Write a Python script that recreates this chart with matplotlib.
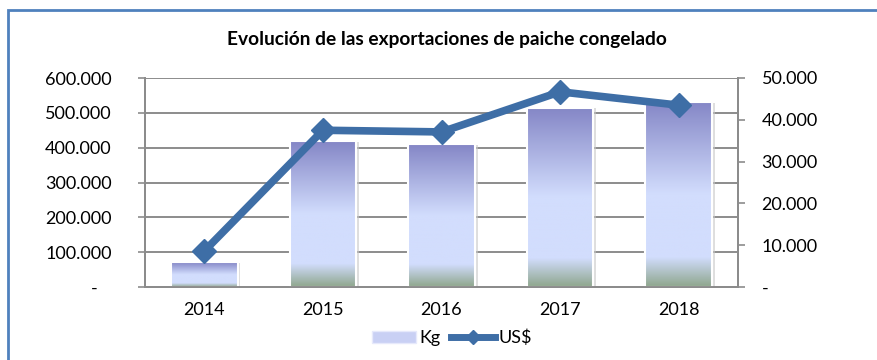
import numpy as np
import matplotlib
matplotlib.use("Agg")
import matplotlib.pyplot as plt
from matplotlib.colors import LinearSegmentedColormap
from matplotlib.patches import Rectangle, Patch
from matplotlib.lines import Line2D
from matplotlib.ticker import FuncFormatter

years = ["2014", "2015", "2016", "2017", "2018"]
kg = [71000, 419000, 410000, 515000, 532000]
usd = [8600, 37500, 37100, 46700, 43500]

plt.rcParams['font.family'] = ['Lato', 'DejaVu Sans']

bar_cmap = LinearSegmentedColormap.from_list(
    "bar", [(0.0, "#8486c6"), (0.5, "#d2ddfd"), (0.84, "#d2ddfd"), (1.0, "#8ea68c")])


def miles(v, pos):
    if v == 0:
        return "-"
    return "{:,.0f}".format(v).replace(",", ".")


def miles_left(v, pos):
    if v == 0:
        return "-   "
    return miles(v, pos)


fig = plt.figure(figsize=(8.77, 3.6), dpi=100)
# chart area border (only top and left edges fall inside the image)
fig.patches.append(Rectangle((8 / 877, -0.1), 1.2, 1.1 - 10 / 360,
                             transform=fig.transFigure, fill=False,
                             edgecolor="#4f81bd", linewidth=2.0))

ax = fig.add_axes([145 / 877, 1 - 287 / 360, (738 - 145) / 877, (287 - 78) / 360])
ax2 = ax.twinx()

x = np.arange(len(years))
width = 0.56
ax.set_ylim(0, 600000)
ax.set_yticks(np.arange(0, 600001, 100000))
ax.yaxis.set_major_formatter(FuncFormatter(miles_left))
ax.grid(axis="y", color="#8c8c8c", linewidth=1.4)
ax.set_axisbelow(True)

grad = np.linspace(0, 1, 256).reshape(-1, 1)
for xi, v in zip(x, kg):
    # soft shadow behind each bar
    ax.add_patch(Rectangle((xi - width / 2 + 0.025, 0), width, v - 2500,
                           facecolor="#c8c8c8", edgecolor="none", alpha=0.6, zorder=2))
    bar = Rectangle((xi - width / 2, 0), width, v, facecolor="none",
                    edgecolor="white", linewidth=1.5, zorder=4)
    ax.add_patch(bar)
    im = ax.imshow(grad, cmap=bar_cmap, aspect="auto", zorder=3,
                   extent=(xi - width / 2, xi + width / 2, 0, v))
    im.set_clip_path(bar)
ax.set_xlim(-0.5, len(years) - 0.5)
ax.set_ylim(0, 600000)

ax2.plot(x, usd, color="#3e6ea6", linewidth=5.5, marker="D", markersize=12,
         markeredgecolor="#3e6ea6", zorder=5)
ax2.set_ylim(0, 50000)
ax2.set_yticks(np.arange(0, 50001, 10000))
ax2.yaxis.set_major_formatter(FuncFormatter(miles))

ax.set_xticks(x)
ax.set_xticklabels(years)
for a in (ax, ax2):
    for side in ("left", "right", "bottom"):
        a.spines[side].set_color("#8c8c8c")
        a.spines[side].set_linewidth(1.4)
    a.spines["top"].set_visible(False)
    a.tick_params(axis="y", colors="#8c8c8c", labelcolor="black", labelsize=13,
                  length=5, width=1.2, direction="out")
ax.tick_params(axis="x", length=0, labelsize=13, pad=11)
ax.tick_params(axis="y", pad=19)
ax2.tick_params(axis="y", pad=12)

fig.text(447 / 877, 1 - 40 / 360, "Evolución de las exportaciones de paiche congelado",
         ha="center", va="center", fontsize=13.8, fontweight="bold")

handles = [Patch(facecolor="#c9d0f4", edgecolor="#e6e9fb", linewidth=1),
           Line2D([0], [0], color="#3e6ea6", linewidth=5, marker="D", markersize=7)]
fig.legend(handles, ["Kg", "US$"], loc="center", bbox_to_anchor=(452 / 877, 22 / 360),
           ncol=2, frameon=False, fontsize=13, handlelength=2.4, columnspacing=0.6,
           handletextpad=0.2)

fig.savefig("out.png", dpi=100)
